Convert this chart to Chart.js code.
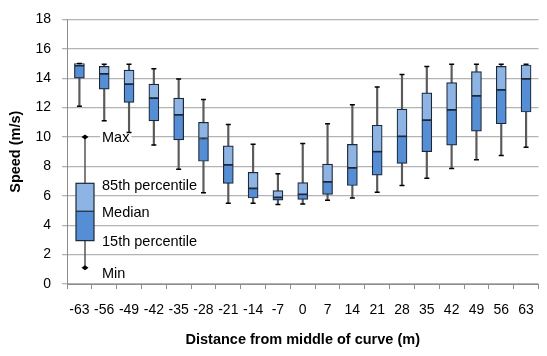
<!DOCTYPE html>
<html>
<head>
<meta charset="utf-8">
<script src="https://cdn.jsdelivr.net/npm/chart.js@4/dist/chart.umd.min.js"></script>
<style>
  html, body { margin: 0; padding: 0; background: #fff; }
  #wrap { width: 547px; height: 356px; position: relative; }
</style>
</head>
<body>
<div id="wrap"><canvas id="chart"></canvas></div>
<script>
// distance from middle of curve (m)
const categories = ["-63", "-56", "-49", "-42", "-35", "-28", "-21", "-14", "-7", "0",
  "7", "14", "21", "28", "35", "42", "49", "56", "63"];

// speed (m/s)
const minVals = [12.1, 11.1, 10.3, 9.45, 7.8, 6.2, 5.5, 5.5, 5.4, 5.45,
  5.7, 5.85, 6.25, 6.7, 7.2, 7.85, 8.45, 8.75, 9.3];
const p15Vals = [14.0, 13.25, 12.35, 11.1, 9.8, 8.35, 6.85, 5.85, 5.7, 5.75,
  6.1, 6.7, 7.4, 8.2, 9.0, 9.45, 10.4, 10.9, 11.7];
const medianVals = [14.85, 14.3, 13.6, 12.65, 11.5, 9.9, 8.1, 6.5, 5.9, 6.1,
  6.95, 7.9, 9.0, 10.05, 11.15, 11.85, 12.8, 13.2, 13.95];
const p85Vals = [15.0, 14.8, 14.55, 13.6, 12.65, 11.0, 9.4, 7.6, 6.35, 6.9,
  8.15, 9.5, 10.8, 11.9, 13.0, 13.7, 14.45, 14.8, 14.9];
const maxVals = [15.0, 14.95, 14.95, 14.65, 13.95, 12.55, 10.85, 9.5, 7.5, 9.55,
  10.9, 12.2, 13.4, 14.25, 14.8, 14.95, 14.95, 14.95, 14.95];

// the little explanation box drawn inside the plot
const keyValues = [1.1, 2.95, 4.95, 6.85, 10]; // min, 15th, median, 85th, max
const keyLabels = ["Min", "15th percentile", "Median", "85th percentile", "Max"];
const keyLabelAt = [0.75, 2.93, 4.87, 6.73, 10];

const lowerColor = "#558ed5";
const upperColor = "#8eb4e3";
const edgeColor = "#1c2838";

const keyPlugin = {
  id: "boxKey",
  beforeDatasetsDraw(chart) {
    const { ctx, chartArea, scales } = chart;
    const y = scales.y;
    ctx.save();
    ctx.font = "14.5px 'Liberation Sans', Arial, sans-serif";
    ctx.fillStyle = "rgba(255,255,255,0.85)";
    keyLabels.forEach((t, i) => {
      const w = ctx.measureText(t).width;
      const yy = y.getPixelForValue(keyLabelAt[i]);
      ctx.fillRect(chartArea.left + 33, yy - 9, w + 4, 18);
    });
    ctx.restore();
  },
  afterDatasetsDraw(chart) {
    const { ctx, chartArea, scales } = chart;
    const y = scales.y;
    const cx = chartArea.left + 18;
    const [kMin, k15, kMed, k85, kMax] = keyValues.map(v => y.getPixelForValue(v));
    ctx.save();
    // whisker
    ctx.strokeStyle = "#555";
    ctx.lineWidth = 1.5;
    ctx.beginPath();
    ctx.moveTo(cx, kMax);
    ctx.lineTo(cx, kMin);
    ctx.stroke();
    // diamonds at the ends
    ctx.fillStyle = "#000";
    [kMin, kMax].forEach(py => {
      ctx.beginPath();
      ctx.moveTo(cx - 3.5, py);
      ctx.lineTo(cx, py - 2.5);
      ctx.lineTo(cx + 3.5, py);
      ctx.lineTo(cx, py + 2.5);
      ctx.closePath();
      ctx.fill();
    });
    // box halves
    ctx.fillStyle = lowerColor;
    ctx.fillRect(cx - 9, kMed, 18, k15 - kMed);
    ctx.fillStyle = upperColor;
    ctx.fillRect(cx - 9, k85, 18, kMed - k85);
    ctx.strokeStyle = edgeColor;
    ctx.lineWidth = 1.2;
    ctx.strokeRect(cx - 9, k85, 18, k15 - k85);
    ctx.beginPath();
    ctx.moveTo(cx - 9, kMed);
    ctx.lineTo(cx + 9, kMed);
    ctx.stroke();
    // labels
    ctx.fillStyle = "#000";
    ctx.font = "14.5px 'Liberation Sans', Arial, sans-serif";
    ctx.textBaseline = "middle";
    keyLabels.forEach((t, i) => {
      ctx.fillText(t, chartArea.left + 35, y.getPixelForValue(keyLabelAt[i]) + 1);
    });
    ctx.restore();
  }
};

const ctx = document.getElementById("chart").getContext("2d");

new Chart(ctx, {
  type: "bar",
  data: {
    labels: categories,
    datasets: [
      {
        label: "Whisker",
        data: minVals.map((m, i) => [m, maxVals[i]]),
        backgroundColor: "#5a5a5a",
        borderWidth: 0,
        barThickness: 1.5,
        grouped: false,
        order: 3,
      },
      {
        label: "15th to median",
        data: p15Vals.map((v, i) => [v, medianVals[i]]),
        backgroundColor: lowerColor,
        borderColor: edgeColor,
        borderWidth: 1.2,
        borderSkipped: false,
        barThickness: 10,
        grouped: false,
        order: 1,
      },
      {
        label: "Median to 85th",
        data: medianVals.map((v, i) => [v, p85Vals[i]]),
        backgroundColor: upperColor,
        borderColor: edgeColor,
        borderWidth: 1.2,
        borderSkipped: false,
        barThickness: 10,
        grouped: false,
        order: 1,
      },
      {
        type: "line",
        label: "Max",
        data: maxVals,
        showLine: false,
        pointStyle: "line",
        pointRadius: 2.5,
        pointBorderWidth: 1.5,
        pointBorderColor: "#000",
        order: 0,
      },
      {
        type: "line",
        label: "Min",
        data: minVals,
        showLine: false,
        pointStyle: "line",
        pointRadius: 2.5,
        pointBorderWidth: 1.5,
        pointBorderColor: "#000",
        order: 0,
      },
    ],
  },
  options: {
    responsive: true,
    maintainAspectRatio: false,
    animation: false,
    layout: { padding: { top: 14, right: 0, left: 0, bottom: 0 } },
    plugins: {
      legend: { display: false },
      tooltip: { enabled: false },
    },
    scales: {
      x: {
        offset: true,
        afterFit: s => { s.height = 72; },
        grid: {
          offset: true,
          drawOnChartArea: false,
          drawTicks: true,
          tickLength: 5,
          color: "#8c8c8c",
        },
        border: { color: "#8c8c8c" },
        ticks: {
          autoSkip: false,
          maxRotation: 0,
          padding: 13,
          color: "#000",
          font: { family: "'Liberation Sans', Arial, sans-serif", size: 14 },
        },
        title: {
          display: true,
          text: "Distance from middle of curve (m)",
          color: "#000",
          font: { family: "'Liberation Sans', Arial, sans-serif", size: 14.5, weight: "bold" },
          padding: { top: 0, bottom: 7 },
        },
      },
      y: {
        min: 0,
        max: 18,
        afterFit: s => { s.width = 67; },
        grid: {
          color: "#b3b3b3",
          lineWidth: 1.3,
          tickLength: 5,
        },
        border: { color: "#8c8c8c" },
        ticks: {
          stepSize: 2,
          padding: 11,
          color: "#000",
          font: { family: "'Liberation Sans', Arial, sans-serif", size: 14 },
        },
        title: {
          display: true,
          text: "Speed (m/s)",
          color: "#000",
          font: { family: "'Liberation Sans', Arial, sans-serif", size: 14.5, weight: "bold" },
          padding: { top: 7, bottom: 0 },
        },
      },
    },
  },
  plugins: [keyPlugin],
});
</script>
</body>
</html>
